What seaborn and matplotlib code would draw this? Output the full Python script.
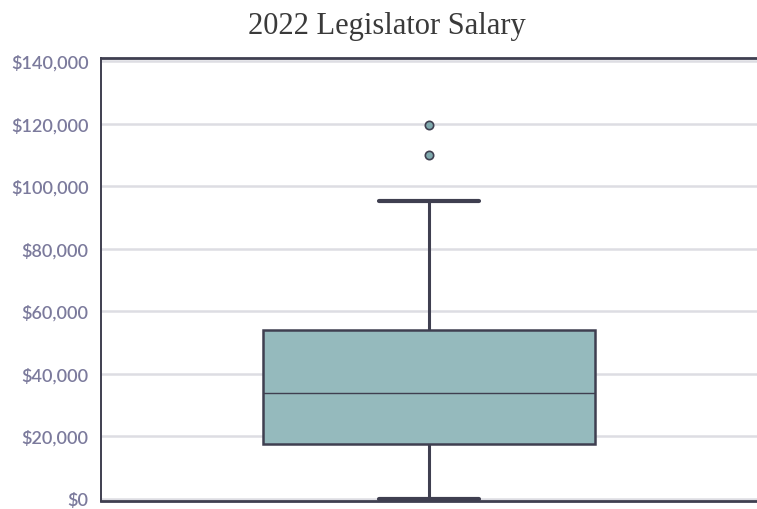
import numpy as np
import pandas as pd
import matplotlib
matplotlib.use('Agg')
import matplotlib.pyplot as plt
import matplotlib.ticker as mticker
import seaborn as sns


# 2022 annual legislator salaries (estimated from the chart), one per state
salaries = [0, 100, 7200, 8000, 10400, 11400, 12000, 13900, 14500, 15600,
            16400, 16800, 17300, 18100, 19000, 20000, 22000, 23500, 24000, 26500,
            28300, 29700, 31000, 32800, 33800, 34200, 36800, 38500, 41400, 44400,
            45600, 47300, 47500, 48300, 49000, 50300, 53000, 54300, 55100, 57900,
            62600, 64000, 68700, 70500, 71700, 72900, 75000, 95400, 110000, 119700]
y_ticks = [0, 20000, 40000, 60000, 80000, 100000, 120000, 140000]
title = '2022 Legislator Salary'

df = pd.DataFrame({'salary': salaries})

sns.set_style('white')
dark = '#3f3f50'
fill = '#95babd'
label_col = '#7b7a9c'

fig = plt.figure(figsize=(7.57, 5.10), dpi=100)
ax = fig.add_axes([0.1334, 0.016, 0.8666, 0.868])

sns.boxplot(data=df, y='salary', ax=ax, width=0.506, color=fill,
            linewidth=1.8, linecolor=dark, saturation=1,
            whiskerprops={'linewidth': 2.2, 'color': dark},
            capprops={'linewidth': 3, 'color': dark},
            medianprops={'linewidth': 1.0, 'color': dark},
            flierprops={'marker': 'o', 'markersize': 6, 'markerfacecolor': '#7fa9ad',
                        'markeredgecolor': dark, 'markeredgewidth': 1.2},
            capwidths=0.152)

ax.set_ylim(-640, 141000)
ax.set_xlim(-0.5, 0.5)
ax.set_yticks(y_ticks)
ax.yaxis.set_major_formatter(mticker.FuncFormatter(lambda v, p: '${:,.0f}'.format(v)))
ax.yaxis.grid(True, color='#dddde3', linewidth=1.8)
ax.set_axisbelow(True)
ax.set_xticks([])
ax.set_xlabel('')
ax.set_ylabel('')
ax.tick_params(axis='y', length=0, pad=9, labelcolor=label_col, labelsize=13)
for lab in ax.get_yticklabels():
    lab.set_fontfamily('Lato')
    lab.set_fontweight('semibold')

for side in ['top', 'left', 'bottom']:
    ax.spines[side].set_color(dark)
ax.spines['top'].set_linewidth(2)
ax.spines['bottom'].set_linewidth(2)
ax.spines['left'].set_linewidth(1.4)
ax.spines['right'].set_visible(False)

fig.text(0.511, 0.948, title, ha='center', va='center', fontsize=22,
         family='Liberation Serif', color='#3a3a3a')

fig.savefig('out.png', dpi=100)
